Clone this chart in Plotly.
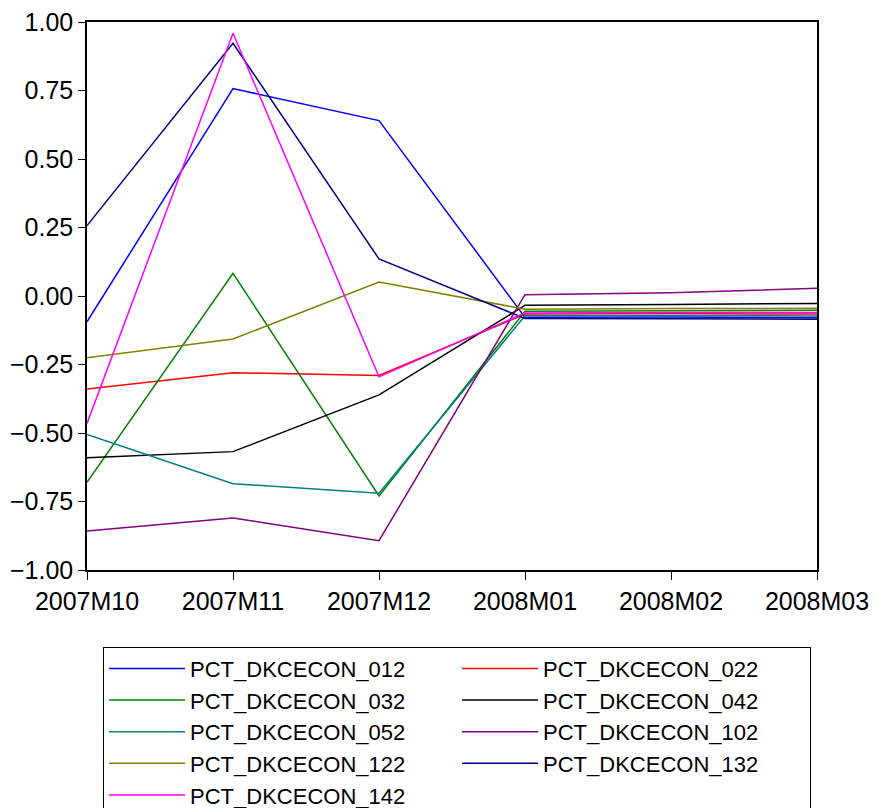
import plotly.graph_objects as go

# Monthly periods on the horizontal axis
periods = ["2007M10", "2007M11", "2007M12", "2008M01", "2008M02", "2008M03"]

# Percent-change series
pct_012 = [-0.094, 0.757, 0.640, -0.078, -0.077, -0.079]
pct_022 = [-0.339, -0.280, -0.290, -0.066, -0.064, -0.066]
pct_032 = [-0.680, 0.083, -0.730, -0.056, -0.054, -0.052]
pct_042 = [-0.590, -0.568, -0.361, -0.034, -0.031, -0.027]
pct_052 = [-0.505, -0.685, -0.720, -0.072, -0.071, -0.073]
pct_102 = [-0.858, -0.810, -0.893, 0.005, 0.012, 0.028]
pct_122 = [-0.225, -0.157, 0.051, -0.048, -0.046, -0.045]
pct_132 = [0.257, 0.922, 0.135, -0.082, -0.083, -0.085]
pct_142 = [-0.465, 0.959, -0.295, -0.062, -0.060, -0.060]

series_names = [
    "PCT_DKCECON_012", "PCT_DKCECON_022", "PCT_DKCECON_032",
    "PCT_DKCECON_042", "PCT_DKCECON_052", "PCT_DKCECON_102",
    "PCT_DKCECON_122", "PCT_DKCECON_132", "PCT_DKCECON_142",
]
series_values = [pct_012, pct_022, pct_032, pct_042, pct_052,
                 pct_102, pct_122, pct_132, pct_142]
series_colors = ["#0000FF", "#FF0000", "#008000", "#000000", "#008080",
                 "#800080", "#808000", "#000080", "#FF00FF"]

y_ticks = [-1.0, -0.75, -0.5, -0.25, 0.0, 0.25, 0.5, 0.75, 1.0]

FONT = "Liberation Sans, Arial, sans-serif"

fig = go.Figure()
for name, vals, col in zip(series_names, series_values, series_colors):
    fig.add_trace(go.Scatter(
        x=list(range(len(periods))), y=vals, name=name, mode="lines",
        line=dict(color=col, width=1.5),
    ))

fig.update_layout(
    width=876, height=808,
    margin=dict(l=87, r=59, t=22, b=238, autoexpand=False),
    paper_bgcolor="white", plot_bgcolor="white",
    font=dict(family=FONT, size=25, color="black"),
    showlegend=True,
    legend=dict(
        orientation="h", x=0.022, xanchor="left", y=-0.140, yanchor="top",
        bordercolor="black", borderwidth=1, bgcolor="white",
        font=dict(family=FONT, size=22, color="black"),
        entrywidth=262, entrywidthmode="pixels",
        itemwidth=76, tracegroupgap=0,
    ),
)

fig.update_xaxes(
    range=[0, len(periods) - 1],
    tickmode="array", tickvals=list(range(len(periods))), ticktext=periods,
    showgrid=False, zeroline=False,
    showline=True, linecolor="black", linewidth=1.5, mirror=True,
    ticks="outside", ticklen=8, tickcolor="black", tickwidth=1,
    tickfont=dict(family=FONT, size=25),
)
fig.update_yaxes(
    range=[-1.0, 1.0],
    tickmode="array", tickvals=y_ticks, tickformat=".2f",
    showgrid=False, zeroline=False,
    showline=True, linecolor="black", linewidth=1.5, mirror=True,
    ticks="outside", ticklen=7, tickcolor="black", tickwidth=1,
    tickfont=dict(family=FONT, size=25),
)

fig.write_html("out.html")
